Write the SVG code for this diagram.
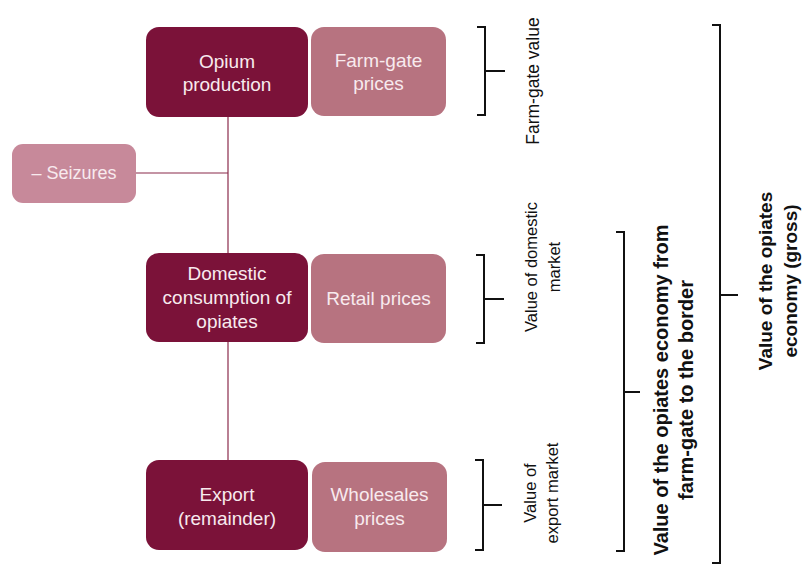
<svg xmlns="http://www.w3.org/2000/svg" width="803" height="567" viewBox="0 0 803 567">
<style>
.dark{fill:#7b1239;}
.light{fill:#b77380;}
.seiz{fill:#c7899a;}
.nt{font-family:"Liberation Sans",Arial,sans-serif;font-size:19px;fill:#f8eaee;text-anchor:middle;}
.lt{font-family:"Liberation Sans",Arial,sans-serif;font-size:16.5px;fill:#111;text-anchor:middle;}
.bt{font-family:"Liberation Sans",Arial,sans-serif;font-size:20px;font-weight:bold;fill:#111;text-anchor:middle;}
.br{fill:none;stroke:#111;stroke-width:2;}
.cn{fill:none;stroke:#8a2a4b;stroke-width:1.2;}
</style>
<rect width="803" height="567" fill="#ffffff"/>
<g id="connectors">
<line class="cn" x1="228" y1="117" x2="228" y2="460"/>
<line class="cn" x1="136" y1="173" x2="228" y2="173"/>
</g>
<g id="opium-production">
<rect class="dark" x="146" y="27" width="162" height="90" rx="13"/>
<text class="nt" x="227" y="68">Opium</text>
<text class="nt" x="227" y="91">production</text>
</g>
<g id="farm-gate-prices">
<rect class="light" x="311" y="27" width="135" height="89" rx="13"/>
<text class="nt" x="378.5" y="67">Farm-gate</text>
<text class="nt" x="378.5" y="90">prices</text>
</g>
<g id="seizures">
<rect class="seiz" x="12" y="144" width="124" height="59" rx="11"/>
<text class="nt" x="74" y="179" style="font-size:18px">– Seizures</text>
</g>
<g id="domestic-consumption">
<rect class="dark" x="146" y="253" width="162" height="89" rx="13"/>
<text class="nt" x="227" y="280">Domestic</text>
<text class="nt" x="227" y="304">consumption of</text>
<text class="nt" x="227" y="328">opiates</text>
</g>
<g id="retail-prices">
<rect class="light" x="311" y="254" width="135" height="89" rx="13"/>
<text class="nt" x="378.5" y="305">Retail prices</text>
</g>
<g id="export">
<rect class="dark" x="146" y="460" width="162" height="90" rx="13"/>
<text class="nt" x="227" y="501">Export</text>
<text class="nt" x="227" y="525">(remainder)</text>
</g>
<g id="wholesales-prices">
<rect class="light" x="312" y="462" width="135" height="90" rx="13"/>
<text class="nt" x="379.5" y="501">Wholesales</text>
<text class="nt" x="379.5" y="525">prices</text>
</g>
<g id="bracket-farm-gate-value">
<path class="br" d="M477,27 H485 V115 H477 M485,71 H505"/>
<text class="lt" style="font-size:17.5px" transform="translate(539,81) rotate(-90)">Farm-gate value</text>
</g>
<g id="bracket-domestic-market">
<path class="br" d="M476,255 H484 V343 H476 M484,299 H504"/>
<text class="lt" transform="translate(537,267) rotate(-90)"><tspan x="0" y="0">Value of domestic</tspan><tspan x="0" y="23">market</tspan></text>
</g>
<g id="bracket-export-market">
<path class="br" d="M475,460 H483 V550 H475 M483,505 H502"/>
<text class="lt" transform="translate(536,493) rotate(-90)"><tspan x="0" y="0">Value of</tspan><tspan x="0" y="22">export market</tspan></text>
</g>
<g id="bracket-farm-gate-to-border">
<path class="br" d="M616,232 H624 V551 H616 M624,392 H640"/>
<text class="bt" transform="translate(668,390) rotate(-90)"><tspan x="0" y="0">Value of the opiates economy from</tspan><tspan x="0" y="25">farm-gate to the border</tspan></text>
</g>
<g id="bracket-gross">
<path class="br" d="M712,25 H720 V563 H712 M720,295 H738"/>
<text class="bt" style="font-size:19px" transform="translate(772,281) rotate(-90)"><tspan x="0" y="0">Value of the opiates</tspan><tspan x="0" y="25">economy (gross)</tspan></text>
</g>
</svg>
